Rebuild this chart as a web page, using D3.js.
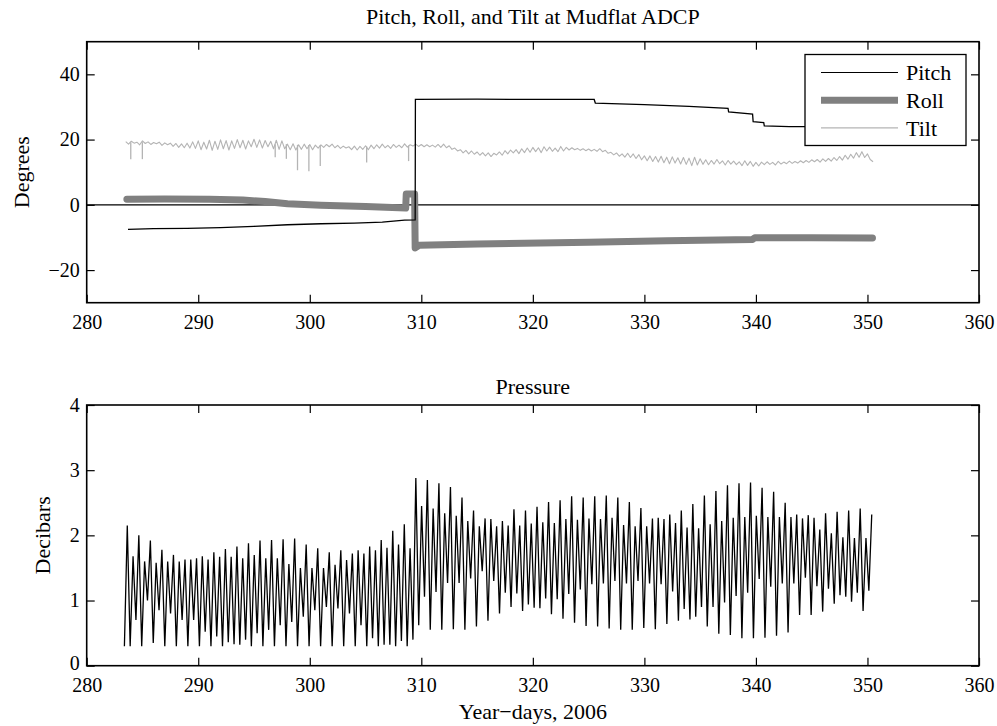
<!DOCTYPE html>
<html>
<head>
<meta charset="utf-8">
<script src="https://cdn.jsdelivr.net/npm/d3@7"></script>
<style>
  html, body { margin: 0; padding: 0; background: #fff; }
  svg { display: block; }
  text { font-family: "Palatino Linotype", Palatino, "Book Antiqua", "Liberation Serif", serif; fill: #000; }
</style>
</head>
<body>
<svg id="chart" width="997" height="726"></svg>
<script>
// ---------- DATA ----------
const xTicks = [280, 290, 300, 310, 320, 330, 340, 350, 360];
const degreeTicks = [-20, 0, 20, 40];
const decibarTicks = [0, 1, 2, 3, 4];

// Pitch (degrees)
const pitchDays   = [283.7, 286, 289, 292, 295, 298, 301, 304, 306.5, 308.5, 309.45, 309.47, 315, 320, 325.5, 325.6, 330, 334, 337.5, 337.55, 339.7, 339.75, 340.7, 340.75, 343, 350.45];
const pitchValues = [-7.5, -7.3, -7.2, -7.0, -6.6, -6.1, -5.8, -5.6, -5.3, -4.7, -4.6, 32.3, 32.4, 32.3, 32.3, 31.2, 30.7, 30.2, 29.6, 28.5, 27.8, 25.5, 25.2, 24.2, 24.0, 24.0];

// Roll (degrees)
const rollDays   = [283.6, 287, 291, 294, 296, 298, 301, 305, 308.6, 308.65, 309.4, 309.45, 309.8, 315, 325, 332, 339.7, 339.9, 345, 350.45];
const rollValues = [1.7, 1.8, 1.7, 1.5, 1.0, 0.3, -0.1, -0.5, -1.0, 3.3, 3.3, -13.2, -12.4, -12.0, -11.5, -11.0, -10.6, -10.1, -10.1, -10.2];

// Tilt (degrees), sampled every 0.25 day from day 283.5
const tiltStart = 283.5;
const tiltStep = 0.25;
const tiltValues = [
  19.4, 18.6, 19.5, 18.9,  19.2, 18.4, 19.6, 18.8,  19.3, 18.5, 19.1, 18.7,
  19.2, 18.2, 19.0, 18.4,  18.9, 17.9, 18.8, 17.6,  18.7, 17.5, 18.9, 17.4,
  19.3, 17.3, 19.6, 16.9,  19.2, 17.1, 19.8, 16.7,  19.5, 17.0, 19.9, 17.2,
  19.7, 16.8, 19.6, 17.3,  20.0, 17.5, 19.8, 17.1,  19.6, 17.8, 20.1, 17.6,
  19.9, 17.4, 19.7, 17.8,  19.5, 17.2, 19.8, 17.0,  19.6, 17.2, 18.6, 16.9,
  18.7, 16.8, 18.4, 17.0,  18.6, 17.2, 18.5, 16.9,  18.3, 17.4, 18.4, 17.6,
  18.5, 17.8, 18.6, 17.5,  18.2, 17.3, 18.0, 17.4,  17.8, 16.9, 18.0, 16.8,
  17.9, 17.0, 18.1, 16.9,  18.3, 17.2, 18.4, 17.4,  18.6, 17.5, 18.2, 17.3,
  18.5, 17.6, 18.3, 17.5,  18.7, 17.7, 18.4, 18.0,  18.6, 17.9, 18.5, 17.8,
  18.4, 17.8, 18.3, 17.7,  18.5, 17.6, 18.6, 17.5,  18.1, 17.0, 17.4, 16.5,
  16.9, 15.9, 16.7, 15.6,  16.5, 15.5, 16.2, 15.2,  16.0, 15.0, 15.9, 14.8,
  15.8, 15.3, 16.2, 15.2,  16.6, 15.6, 16.8, 15.9,  16.9, 15.7, 17.2, 16.0,
  17.4, 16.1, 17.6, 16.3,  17.5, 16.0, 17.8, 16.5,  17.7, 16.4, 17.4, 16.3,
  17.9, 16.5, 17.6, 16.8,  17.5, 16.9, 17.3, 16.7,  17.2, 16.6, 17.1, 16.5,
  17.0, 16.4, 17.2, 16.3,  16.7, 15.8, 16.1, 15.3,  15.9, 14.9, 15.6, 14.6,
  15.8, 14.5, 15.6, 14.2,  15.4, 13.8, 15.0, 13.5,  15.0, 13.3, 14.8, 13.1,
  14.9, 12.9, 14.6, 12.6,  14.7, 12.8, 14.4, 12.5,  14.5, 12.4, 14.3, 12.0,
  14.6, 12.2, 14.1, 12.4,  13.8, 12.3, 13.6, 12.5,  13.9, 12.6, 13.5, 12.2,
  13.6, 12.5, 13.4, 12.3,  13.2, 12.0, 13.5, 12.1,  13.3, 11.8, 13.0, 11.9,
  13.1, 12.3, 13.2, 12.4,  13.0, 12.2, 13.3, 12.5,  13.1, 12.6, 13.4, 12.7,
  13.3, 12.8, 13.5, 12.9,  13.6, 13.0, 13.8, 13.2,  13.9, 13.1, 14.1, 13.3,
  14.2, 13.4, 14.5, 13.6,  14.8, 13.7, 15.2, 14.0,  15.5, 14.3, 16.0, 14.6,
  16.3, 14.5, 15.6, 13.9,  13.2
];
// Short downward tilt spikes
const tiltSpikeDays = [283.95, 284.99, 296.9, 297.9, 298.9, 299.92, 300.94, 305.1, 308.86];
const tiltSpikeTops = [19.2, 19.2, 18.6, 18.6, 18.4, 18.3, 18.3, 17.9, 18.2];
const tiltSpikeLows = [14.0, 14.0, 14.6, 14.1, 10.6, 10.3, 11.9, 13.0, 13.4];

// Pressure (decibars), successive tidal highs and lows, one every ~0.2587 day from day 283.38
const pressureStart = 283.38;
const pressureStep = 0.2587;
const pressureValues = [
  0.3, 2.15, 0.3, 1.68, 0.7, 2.0, 0.3, 1.6, 1.0, 1.92,
  0.35, 1.58, 0.85, 1.78, 0.3, 1.6, 0.8, 1.7, 0.3, 1.6,
  0.7, 1.63, 0.3, 1.63, 0.7, 1.65, 0.3, 1.68, 0.52, 1.63,
  0.3, 1.74, 0.45, 1.67, 0.3, 1.79, 0.36, 1.67, 0.33, 1.83,
  0.32, 1.65, 0.4, 1.88, 0.3, 1.7, 0.5, 1.92, 0.3, 1.65,
  0.55, 1.93, 0.3, 1.65, 0.62, 1.94, 0.3, 1.56, 0.67, 1.95,
  0.3, 1.5, 0.75, 1.86, 0.3, 1.5, 0.85, 1.8, 0.3, 1.5,
  0.9, 1.74, 0.3, 1.55, 0.88, 1.77, 0.3, 1.62, 0.8, 1.72,
  0.3, 1.77, 0.62, 1.72, 0.3, 1.83, 0.42, 1.77, 0.3, 1.93,
  0.32, 1.81, 0.32, 2.07, 0.3, 1.86, 0.38, 2.17, 0.3, 1.8,
  0.4,
  2.88, 0.62, 2.45, 1.06, 2.85, 0.55, 2.41, 1.13, 2.80, 0.55,
  2.34, 1.27, 2.74, 0.56, 2.3, 1.27, 2.58, 0.55, 2.22, 1.34,
  2.38, 0.6, 2.14, 1.45, 2.26, 0.69, 2.25, 1.3, 2.14, 0.8,
  2.22, 1.12, 2.15, 0.9, 2.4, 1.11, 2.15, 0.84, 2.38, 0.94,
  2.18, 0.89, 2.44, 0.88, 2.2, 1.03, 2.51, 0.79, 2.19, 1.02,
  2.54, 0.72, 2.25, 1.1, 2.6, 0.66, 2.24, 1.17, 2.58, 0.61,
  2.26, 1.25, 2.6, 0.6, 2.25, 1.26, 2.61, 0.57, 2.27, 1.3,
  2.58, 0.55, 2.16, 1.26, 2.51, 0.55, 2.14, 1.3, 2.42, 0.58,
  2.14, 1.26, 2.26, 0.56, 2.27, 1.25, 2.25, 0.64, 2.32, 1.14,
  2.19, 0.69, 2.38, 0.87, 2.12, 0.71, 2.48, 0.75, 2.11,
  0.9, 2.61, 0.6, 2.17, 0.9, 2.68, 0.49, 2.22, 0.97, 2.77,
  0.47, 2.27, 1.07, 2.8, 0.42, 2.28, 1.12, 2.81, 0.42, 2.3,
  1.33, 2.73, 0.43, 2.28, 1.21, 2.67, 0.46, 2.28, 1.26, 2.5,
  0.51, 2.28, 1.26, 2.32, 0.78, 2.26, 1.35, 2.31, 0.78, 2.27,
  1.22, 2.09, 0.83, 2.34, 1.18, 2.03, 0.95, 2.36, 1.08, 1.97,
  1.06, 2.38, 0.98, 1.96, 1.12, 2.41, 0.84, 1.96, 1.15, 2.32
];

const legendLabels = ["Pitch", "Roll", "Tilt"];

// ---------- DRAW ----------
const FONT = '"Palatino Linotype", Palatino, "Book Antiqua", "Liberation Serif", serif';
const svg = d3.select("#chart");
const W = 997, H = 726;
svg.append("rect").attr("width", W).attr("height", H).attr("fill", "#fff");

const xLeft = 86.7, xRight = 979;
const x = d3.scaleLinear().domain([280, 360]).range([xLeft, xRight]);
const yTop = d3.scaleLinear().domain([-30, 50]).range([302.7, 41.7]);
const yBot = d3.scaleLinear().domain([0, 4]).range([665.7, 405]);

const tickFont = 20, labelFont = 22;
const intFmt = d3.format("d");

function drawFrame(y, yTicks, liftBottomLabel) {
  const g = svg.append("g");
  const [y0, y1] = y.range();
  const bx = g.append("g").attr("transform", `translate(0,${y0})`)
    .call(d3.axisBottom(x).tickValues(xTicks).tickSizeInner(-8).tickSizeOuter(0).tickPadding(12.5).tickFormat(intFmt));
  const tx = g.append("g").attr("transform", `translate(0,${y1})`)
    .call(d3.axisTop(x).tickValues(xTicks).tickSizeInner(-8).tickSizeOuter(0).tickFormat(""));
  const ly = g.append("g").attr("transform", `translate(${xLeft},0)`)
    .call(d3.axisLeft(y).tickValues(yTicks).tickSizeInner(-8).tickSizeOuter(0).tickPadding(7).tickFormat(intFmt));
  const ry = g.append("g").attr("transform", `translate(${xRight},0)`)
    .call(d3.axisRight(y).tickValues(yTicks).tickSizeInner(-8).tickSizeOuter(0).tickFormat(""));
  [bx, tx, ly, ry].forEach(a => {
    a.attr("font-family", FONT).attr("font-size", tickFont);
    a.select(".domain").remove();
    a.selectAll(".tick line").attr("stroke", "#000").attr("stroke-width", 1.2);
    a.selectAll(".tick text").style("font-size", tickFont + "px")
      .style("font-family", FONT).attr("fill", "#000");
  });
  if (liftBottomLabel) {
    ly.selectAll(".tick text").filter(d => d === y.domain()[0]).attr("dy", "0.2em");
  }
  g.append("rect")
    .attr("x", xLeft).attr("y", y1)
    .attr("width", xRight - xLeft).attr("height", y0 - y1)
    .attr("fill", "none").attr("stroke", "#000").attr("stroke-width", 1.6);
  return g;
}

// ---- Top panel ----
const topG = svg.append("g");
topG.append("line")
  .attr("x1", xLeft).attr("x2", xRight)
  .attr("y1", yTop(0)).attr("y2", yTop(0))
  .attr("stroke", "#000").attr("stroke-width", 1.2);

const tiltPts = tiltValues.map((v, i) => [tiltStart + i * tiltStep, v]);
const lineTop = d3.line().x(d => x(d[0])).y(d => yTop(d[1]));

topG.append("path").datum(tiltPts)
  .attr("d", lineTop).attr("fill", "none")
  .attr("stroke", "#b4b4b4").attr("stroke-width", 1.1).attr("stroke-linejoin", "round");

tiltSpikeDays.forEach((d, i) => {
  topG.append("path").datum([[d, tiltSpikeTops[i]], [d, tiltSpikeLows[i]]])
    .attr("d", lineTop).attr("fill", "none")
    .attr("stroke", "#b4b4b4").attr("stroke-width", 1.3);
});

const rollPts = rollDays.map((d, i) => [d, rollValues[i]]);
topG.append("path").datum(rollPts)
  .attr("d", lineTop).attr("fill", "none")
  .attr("stroke", "#808080").attr("stroke-width", 7)
  .attr("stroke-linejoin", "round").attr("stroke-linecap", "round");

const pitchPts = pitchDays.map((d, i) => [d, pitchValues[i]]);
topG.append("path").datum(pitchPts)
  .attr("d", lineTop).attr("fill", "none")
  .attr("stroke", "#000").attr("stroke-width", 1.3);

drawFrame(yTop, degreeTicks, false);

// Legend
const lg = svg.append("g");
lg.append("rect").attr("x", 805).attr("y", 54.5).attr("width", 161).attr("height", 91)
  .attr("fill", "#fff").attr("stroke", "#000").attr("stroke-width", 1.3);
const legendStyles = [
  { color: "#000", width: 1.2 },
  { color: "#808080", width: 7 },
  { color: "#b4b4b4", width: 1.2 }
];
legendLabels.forEach((lab, i) => {
  const cy = 72.5 + i * 27.7;
  lg.append("line").attr("x1", 821).attr("x2", 898).attr("y1", cy).attr("y2", cy)
    .attr("stroke", legendStyles[i].color).attr("stroke-width", legendStyles[i].width);
  lg.append("text").attr("x", 906).attr("y", cy).attr("dy", "0.35em")
    .style("font-size", labelFont + "px").text(lab);
});

svg.append("text").attr("x", (xLeft + xRight) / 2).attr("y", 24)
  .attr("text-anchor", "middle").style("font-size", labelFont + "px")
  .text("Pitch, Roll, and Tilt at Mudflat ADCP");
svg.append("text")
  .attr("transform", `translate(29,${(yTop.range()[0] + yTop.range()[1]) / 2}) rotate(-90)`)
  .attr("text-anchor", "middle").style("font-size", labelFont + "px")
  .text("Degrees");

// ---- Bottom panel ----
const botG = svg.append("g");
const pressPts = pressureValues.map((v, i) => [pressureStart + i * pressureStep, v]);
botG.append("path").datum(pressPts)
  .attr("d", d3.line().x(d => x(d[0])).y(d => yBot(d[1])))
  .attr("fill", "none").attr("stroke", "#000").attr("stroke-width", 1.3)
  .attr("stroke-linejoin", "miter");

drawFrame(yBot, decibarTicks, true);

svg.append("text").attr("x", (xLeft + xRight) / 2).attr("y", 394)
  .attr("text-anchor", "middle").style("font-size", labelFont + "px")
  .text("Pressure");
svg.append("text")
  .attr("transform", `translate(50,${(yBot.range()[0] + yBot.range()[1]) / 2}) rotate(-90)`)
  .attr("text-anchor", "middle").style("font-size", labelFont + "px")
  .text("Decibars");
svg.append("text").attr("x", (xLeft + xRight) / 2).attr("y", 719)
  .attr("text-anchor", "middle").style("font-size", labelFont + "px")
  .text("Year\u2212days, 2006");
</script>
</body>
</html>
